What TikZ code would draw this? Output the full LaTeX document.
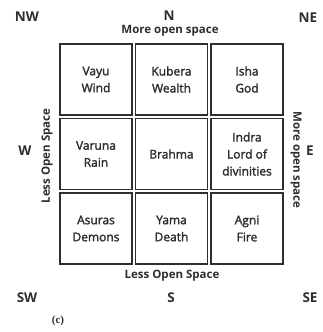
\documentclass[tikz,border=0pt]{standalone}
\usepackage{fontspec}
\setmainfont{Open Sans}
\newfontfamily\serifc{Liberation Serif}
\newfontfamily\medsans[FakeBold=2]{Open Sans}
\definecolor{ink}{HTML}{2E2E2E}
\begin{document}
\begin{tikzpicture}[x=1pt,y=-1pt,
  cell/.style={draw=ink,line width=1.4pt,minimum width=72pt,minimum height=71pt,inner sep=0pt,align=center,font=\medsans\fontsize{12}{17}\selectfont,text=ink},
  dir/.style={font=\fontsize{13.5}{15}\selectfont\bfseries,text=ink},
  side/.style={font=\fontsize{11.5}{13}\selectfont\bfseries,text=ink}]
\useasboundingbox (0,0) rectangle (322,332);
\node[cell] (c11) at (96,79.5) {Vayu\\Wind};
\node[cell] (c12) at (171.5,79.5) {Kubera\\Wealth};
\node[cell] (c13) at (247,79.5) {Isha\\God};
\node[cell] (c21) at (96,154) {Varuna\\Rain};
\node[cell] (c22) at (171.5,154) {Brahma};
\node[cell] (c23) at (247,154) {Indra\\Lord of\\divinities};
\node[cell] (c31) at (96,228.5) {Asuras\\Demons};
\node[cell] (c32) at (171.5,228.5) {Yama\\Death};
\node[cell] (c33) at (247,228.5) {Agni\\Fire};
\node[dir] (nw) at (27,17) {NW};
\node[dir] (n) at (169,16) {N};
\node[dir] (ne) at (308,18) {NE};
\node[dir] (w) at (25,151) {W};
\node[dir] (e) at (310,151) {E};
\node[dir] (sw) at (27,298) {SW};
\node[dir] (s) at (171,298) {S};
\node[dir] (se) at (310,298) {SE};
\node[side] (top) at (170,31) {More open space};
\node[side] (bot) at (172,276) {Less Open Space};
\node[side,rotate=90] (left) at (47,156) {Less Open Space};
\node[side,rotate=-90] (right) at (296,160) {More open space};
\node[font=\serifc\fontsize{11}{12}\selectfont\bfseries,text=ink] (lab) at (58,321) {(c)};
\end{tikzpicture}
\end{document}
